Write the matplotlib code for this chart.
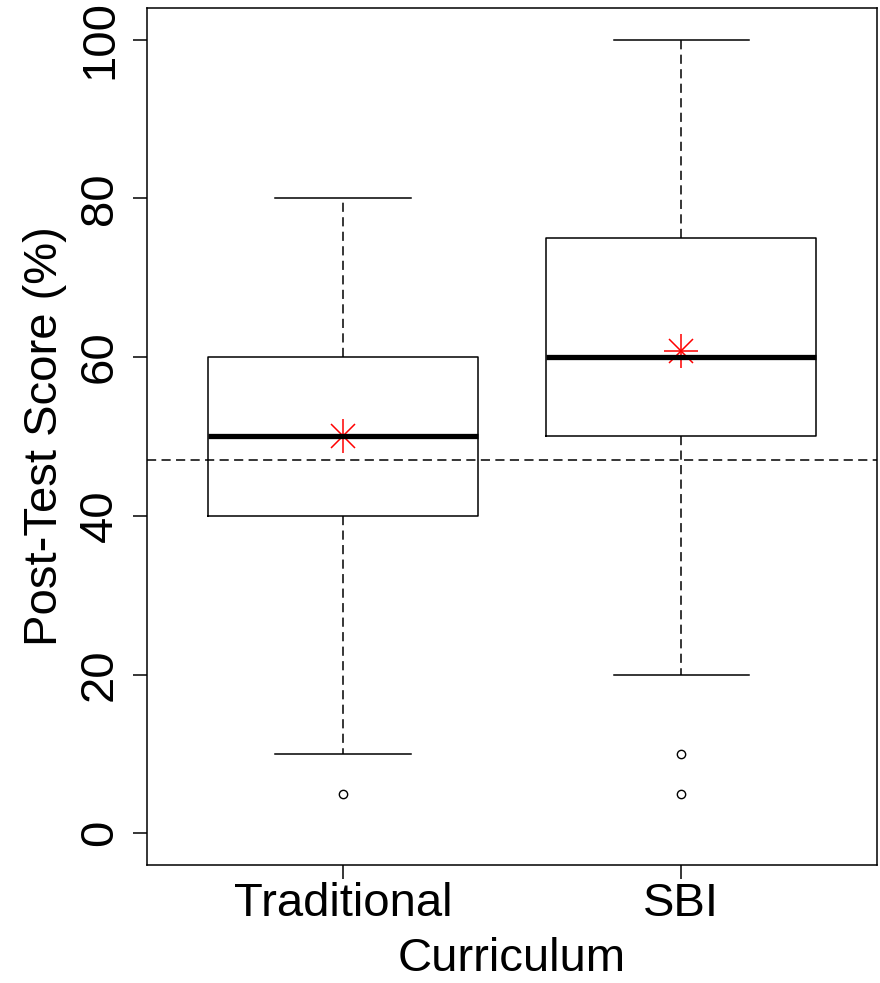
import matplotlib.pyplot as plt

plt.rcParams['font.family'] = ['Liberation Sans', 'DejaVu Sans']

groups = ["Traditional", "SBI"]
whislo = [10, 20]
q1 = [40, 50]
med = [50, 60]
q3 = [60, 75]
whishi = [80, 100]
fliers = [[5], [5, 10]]
means = [50.0, 60.8]
ref_line = 47

stats = []
for i in range(len(groups)):
    stats.append({
        'label': groups[i], 'whislo': whislo[i], 'q1': q1[i], 'med': med[i],
        'q3': q3[i], 'whishi': whishi[i], 'fliers': fliers[i],
    })

fig = plt.figure(figsize=(8.8, 9.83), dpi=100)
ax = fig.add_axes([0.167, 0.12, 0.83, 0.872])

dash = (0, (6, 3.5))
ax.bxp(stats, positions=[1, 2], widths=0.8, showfliers=True,
       boxprops=dict(color='black', linewidth=1.1),
       medianprops=dict(color='black', linewidth=3.8, solid_capstyle='butt'),
       whiskerprops=dict(color='black', linewidth=1.1, linestyle=dash),
       capprops=dict(color='black', linewidth=1.1),
       capwidths=0.4,
       flierprops=dict(marker='o', markersize=6, markerfacecolor='none',
                       markeredgecolor='black', markeredgewidth=1))

# mean markers (R pch=8 style)
ax.plot([1, 2], means, linestyle='none', marker='+', markersize=24,
        markeredgewidth=1.1, color='red')
ax.plot([1, 2], means, linestyle='none', marker='x', markersize=17,
        markeredgewidth=1.1, color='red')

ax.axhline(ref_line, color='black', linewidth=1.1, linestyle=dash)

ax.set_xlim(0.42, 2.58)
ax.set_ylim(-4, 104)
ax.set_yticks([0, 20, 40, 60, 80, 100])
ax.set_xticks([1, 2])
ax.set_xticklabels(groups)

for sp in ax.spines.values():
    sp.set_linewidth(1.1)
ax.tick_params(axis='both', direction='out', length=10, width=1.1,
               labelsize=34)
ax.tick_params(axis='y', pad=8)
ax.tick_params(axis='x', pad=2)
for lab in ax.get_yticklabels():
    lab.set_rotation(90)
    lab.set_va('center')

ax.set_ylabel("Post-Test Score (%)", fontsize=34, labelpad=8)
ax.set_xlabel("Curriculum", fontsize=34, labelpad=8)

fig.savefig("out.png", dpi=100)
